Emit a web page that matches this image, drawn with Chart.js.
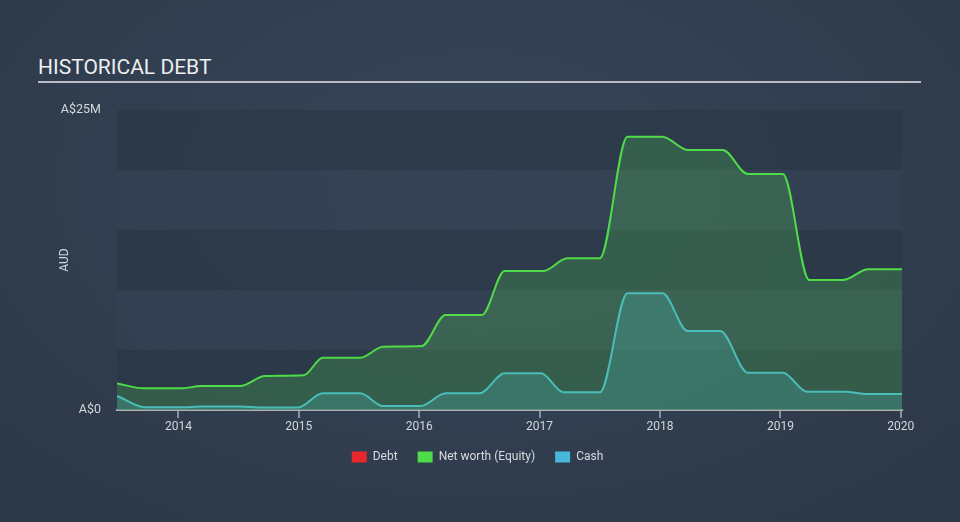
<!DOCTYPE html>
<html>
<head>
<meta charset="utf-8">
<script src="https://cdn.jsdelivr.net/npm/chart.js@4/dist/chart.umd.min.js"></script>
<style>
  html, body { margin: 0; padding: 0; }
  body {
    width: 960px; height: 522px; overflow: hidden; position: relative;
    background: radial-gradient(ellipse 70% 80% at 50% 35%, #364558 0%, #313e4f 60%, #2d3847 100%);
    font-family: Roboto, "Noto Sans", sans-serif;
  }
  #title {
    position: absolute; left: 38px; top: 54px;
    font-size: 21px; color: #eceef1; letter-spacing: 0px; line-height: 27px;
  }
  #rule {
    position: absolute; left: 38px; top: 81px; width: 883px; height: 2px; background: #b9bec5;
  }
  #wrap { position: absolute; left: 0; top: 0; width: 960px; height: 522px; }
</style>
</head>
<body>
<div id="title">HISTORICAL DEBT</div>
<div id="rule"></div>
<div id="wrap"><canvas id="c" width="960" height="522"></canvas></div>
<script>
// ---- data (decimal year, value in A$ millions) ----
const seriesNames = ["Debt", "Net worth (Equity)", "Cash"];
const debtX = [];
const debtY = [];
const equityX = [2013.49, 2013.71, 2014.04, 2014.18, 2014.51, 2014.72, 2015.04, 2015.20, 2015.51, 2015.70, 2016.02, 2016.22, 2016.52, 2016.71, 2017.03, 2017.23, 2017.50, 2017.73, 2018.02, 2018.23, 2018.52, 2018.73, 2019.02, 2019.24, 2019.52, 2019.73, 2020.01];
const equityY = [2.22, 1.81, 1.81, 2.0, 2.0, 2.83, 2.89, 4.36, 4.36, 5.27, 5.33, 7.92, 7.92, 11.58, 11.58, 12.64, 12.64, 22.78, 22.78, 21.67, 21.67, 19.67, 19.67, 10.83, 10.83, 11.72, 11.72];
const cashX = [2013.49, 2013.73, 2014.04, 2014.18, 2014.51, 2014.70, 2014.99, 2015.20, 2015.51, 2015.70, 2016.01, 2016.22, 2016.50, 2016.71, 2017.01, 2017.20, 2017.50, 2017.73, 2018.02, 2018.23, 2018.50, 2018.73, 2019.02, 2019.22, 2019.54, 2019.71, 2020.01];
const cashY = [1.17, 0.22, 0.22, 0.3, 0.3, 0.2, 0.2, 1.39, 1.39, 0.33, 0.33, 1.39, 1.39, 3.06, 3.06, 1.47, 1.47, 9.72, 9.72, 6.58, 6.58, 3.11, 3.11, 1.53, 1.53, 1.33, 1.33];
const xTickYears = [2014, 2015, 2016, 2017, 2018, 2019, 2020];
const yTickValues = [0, 5, 10, 15, 20, 25];
const yTickLabels = {0: "A$0", 25: "A$25M"};
const xMin = 2013.49, xMax = 2020.01;

const pts = (xs, ys) => xs.map((x, i) => ({x: x, y: ys[i]}));

const bands = {
  id: 'bands',
  beforeDatasetsDraw(chart) {
    const {ctx, chartArea: a, scales: {y}} = chart;
    ctx.save();
    for (let i = 0; i < yTickValues.length - 1; i++) {
      const top = y.getPixelForValue(yTickValues[i + 1]);
      const bot = y.getPixelForValue(yTickValues[i]);
      ctx.fillStyle = (i % 2 === 0) ? 'rgba(40,52,67,0.55)' : 'rgba(52,66,83,0.55)';
      ctx.fillRect(a.left, top, a.right - a.left, bot - top);
    }
    ctx.restore();
  }
};

Chart.defaults.font.family = 'Roboto, "Noto Sans", sans-serif';
Chart.defaults.color = '#d3d7dc';

new Chart(document.getElementById('c'), {
  type: 'line',
  data: {
    datasets: [
      { label: seriesNames[0], data: pts(debtX, debtY), borderColor: '#e8262b', backgroundColor: '#e8262b', borderWidth: 2, pointRadius: 0 },
      { label: seriesNames[1], data: pts(equityX, equityY), borderColor: '#4fdc49', backgroundColor: 'rgba(84,205,89,0.25)',
        fill: 'origin', borderWidth: 2, pointRadius: 0, cubicInterpolationMode: 'monotone' },
      { label: seriesNames[2], data: pts(cashX, cashY), borderColor: '#47b8da', backgroundColor: 'rgba(71,184,218,0.25)',
        fill: 'origin', borderWidth: 2, pointRadius: 0, cubicInterpolationMode: 'monotone' }
    ]
  },
  options: {
    responsive: false,
    animation: false,
    layout: { padding: { left: 53, right: 58, top: 110, bottom: 49 } },
    plugins: {
      tooltip: { enabled: false },
      legend: {
        position: 'bottom',
        labels: {
          boxWidth: 15, boxHeight: 11, padding: 20,
          color: '#d7dadf',
          font: { size: 12 },
          generateLabels(chart) {
            return chart.data.datasets.map((d, i) => ({
              text: d.label, fillStyle: d.borderColor, strokeStyle: d.borderColor,
              lineWidth: 0, hidden: false, datasetIndex: i, fontColor: '#d7dadf'
            }));
          }
        }
      }
    },
    scales: {
      x: {
        type: 'linear', min: xMin, max: xMax,
        afterBuildTicks(s) { s.ticks = xTickYears.map(v => ({value: v})); },
        afterFit(s) { s.height = 21; },
        grid: { display: true, drawOnChartArea: false, drawTicks: true, tickLength: 8, color: '#8791a0', lineWidth: 2 },
        border: { display: true, color: '#b3aeb2', width: 2 },
        ticks: { color: '#d3d7dc', font: { size: 12 }, padding: 2, maxRotation: 0, autoSkip: false,
                 callback: v => String(v) }
      },
      y: {
        type: 'linear', min: 0, max: 25,
        afterBuildTicks(s) { s.ticks = yTickValues.map(v => ({value: v})); },
        afterFit(s) { s.width = 64; },
        grid: { display: false },
        border: { display: false },
        title: { display: true, text: 'AUD', color: '#d3d7dc', font: { size: 12 }, padding: { top: 5, bottom: 0 } },
        ticks: { color: '#d3d7dc', font: { size: 12.5 }, padding: 8, autoSkip: false,
                 callback: v => (yTickLabels[v] !== undefined ? yTickLabels[v] : '') }
      }
    }
  },
  plugins: [bands]
});
</script>
</body>
</html>
